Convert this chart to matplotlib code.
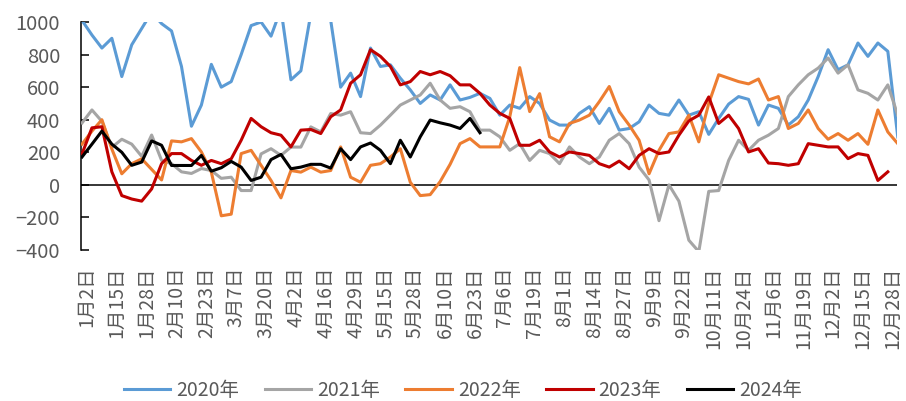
import numpy as np
import matplotlib
matplotlib.use("Agg")
import matplotlib.pyplot as plt

plt.rcParams['font.family'] = ['Noto Sans CJK SC', 'DejaVu Sans']

# ---------------- data ----------------
tick_labels = ["1月2日", "1月15日", "1月28日", "2月10日", "2月23日", "3月7日", "3月20日",
               "4月2日", "4月16日", "4月29日", "5月15日", "5月28日", "6月10日", "6月23日",
               "7月6日", "7月19日", "8月1日", "8月14日", "8月27日", "9月9日", "9月22日",
               "10月11日", "10月24日", "11月6日", "11月19日", "12月2日", "12月15日", "12月28日"]

series_names = ["2020年", "2021年", "2022年", "2023年", "2024年"]

y2020 = [1010, 920, 840, 900, 665, 860, 960, 1060, 990, 945,
         727, 360, 490, 740, 600, 634, 800, 978, 1000, 913,
         1080, 645, 700, 1050, 1020, 1010, 600, 686, 542, 840,
         727, 737, 655, 583, 500, 552, 521, 614, 521, 537,
         562, 531, 428, 490, 470, 542, 500, 398, 367, 367,
         439, 480, 377, 470, 336, 346, 387, 490, 439, 428,
         521, 428, 449, 310, 408, 496, 542, 525, 367, 490,
         470, 367, 418, 521, 665, 830, 707, 737, 871, 789,
         871, 820, 294]

y2021 = [380, 460, 390, 230, 280, 250, 175, 306, 150, 130,
         80, 70, 100, 88, 40, 47, -35, -35, 190, 222,
         181, 232, 232, 356, 325, 438, 428, 449, 320, 315,
         367, 428, 490, 521, 552, 624, 521, 470, 480, 449,
         336, 336, 295, 212, 253, 150, 212, 192, 130, 233,
         171, 130, 171, 274, 315, 253, 109, 30, -220, 0,
         -100, -340, -410, -40, -35, 150, 274, 212, 274, 305,
         346, 542, 614, 676, 717, 779, 686, 737, 583, 562,
         521, 614, 428]

y2022 = [250, 330, 400, 220, 68, 130, 160, 95, 30, 270,
         264, 284, 202, 78, -190, -180, 192, 212, 120, 27,
         -80, 88, 78, 109, 78, 88, 233, 47, 16, 120,
         130, 171, 222, 16, -66, -60, 20, 126, 253, 284,
         233, 233, 233, 418, 720, 450, 560, 295, 264, 377,
         398, 428, 511, 604, 449, 367, 274, 68, 212, 315,
         325, 428, 264, 500, 676, 655, 634, 620, 650, 521,
         542, 346, 377, 460, 346, 280, 315, 274, 315, 249,
         460, 325, 253]

y2023 = [190, 350, 357, 80, -66, -87, -100, -25, 130, 192,
         192, 150, 120, 150, 130, 160, 274, 408, 357, 320,
         305, 233, 336, 340, 315, 418, 460, 624, 676, 830,
         789, 727, 614, 634, 696, 676, 696, 670, 614, 614,
         562, 490, 439, 408, 243, 243, 274, 202, 171, 202,
         192, 181, 130, 109, 146, 99, 181, 222, 192, 202,
         305, 393, 428, 540, 377, 428, 346, 202, 222, 134,
         130, 120, 130, 253, 243, 233, 233, 161, 192, 181,
         27, 80]

y2024 = [171, 250, 330, 250, 200, 120, 140, 270, 243, 119,
         119, 119, 181, 84, 105, 144, 109, 27, 47, 155,
         187, 99, 109, 126, 126, 103, 222, 155, 233, 257,
         212, 130, 274, 171, 295, 398, 381, 367, 346, 408,
         320]

all_series = [y2020, y2021, y2022, y2023, y2024]
colors = ["#5B9BD5", "#A5A5A5", "#ED7D31", "#C00000", "#000000"]

# ---------------- layout ----------------
W, H = 906, 401
X0 = -0.1675       # position of first sample in tick-label units
STEP = 1.0 / 3.0   # sample spacing in tick-label units

fig = plt.figure(figsize=(W / 100, H / 100), dpi=100)
ax = fig.add_axes([81 / W, 1 - 250 / H, (897 - 81) / W, (250 - 22) / H])

lines = []
for vals, col, name in zip(all_series, colors, series_names):
    x = X0 + STEP * np.arange(len(vals))
    ln, = ax.plot(x, vals, color=col, lw=2.2, label=name, solid_joinstyle='round', zorder=3)
    lines.append(ln)

ax.axhline(0, color='black', lw=1.1, zorder=2)

ax.set_ylim(-400, 1000)
ax.set_yticks(np.arange(-400, 1001, 200))
ax.set_xlim(-0.201, 27.14)
ax.set_xticks(np.arange(len(tick_labels)))
ax.set_xticklabels(tick_labels, rotation=90)

for s in ['top', 'right', 'bottom']:
    ax.spines[s].set_visible(False)
ax.spines['left'].set_color('black')
ax.spines['left'].set_linewidth(1.1)

ax.tick_params(axis='y', direction='in', length=6, width=1.1, color='black',
               labelcolor='#595959', labelsize=14.5, pad=15)
ax.tick_params(axis='x', length=0, labelcolor='#595959', labelsize=14, pad=12)

fig.legend(handles=lines, loc='center', bbox_to_anchor=(463 / W, 1 - 390 / H),
           ncol=5, frameon=False, fontsize=14, labelcolor='#595959',
           handlelength=2.4, handletextpad=0.3, columnspacing=1.3)

fig.savefig('out.png', dpi=100)
